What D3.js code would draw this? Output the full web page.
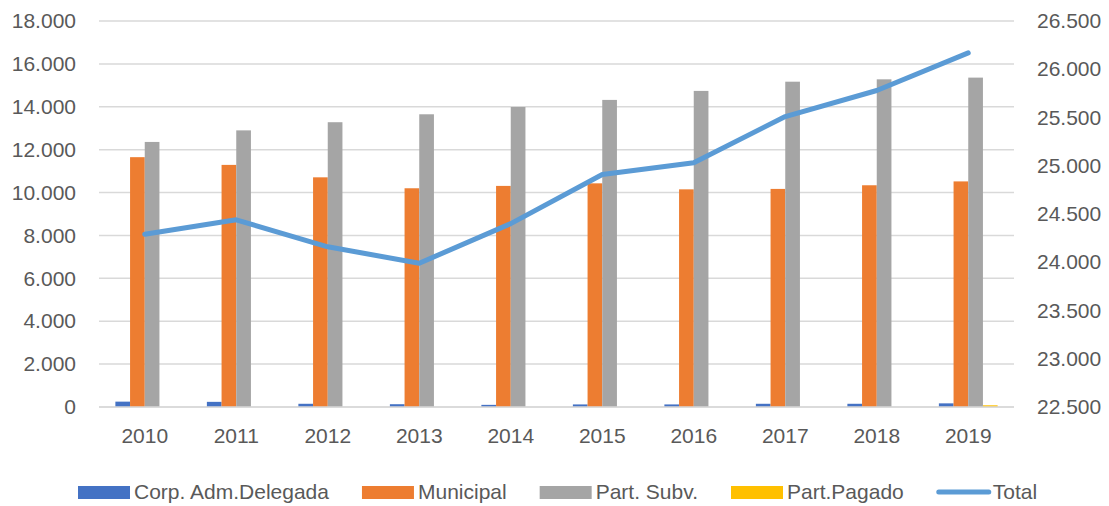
<!DOCTYPE html>
<html>
<head>
<meta charset="utf-8">
<script src="https://cdn.jsdelivr.net/npm/d3@7"></script>
<style>
  body { margin: 0; background: #fff; }
  text { font-family: "Liberation Sans", Arial, sans-serif; fill: #595959; }
</style>
</head>
<body>
<script>
var years = ['2010', '2011', '2012', '2013', '2014', '2015', '2016', '2017', '2018', '2019'];
var corpAdm = [250, 240, 150, 130, 100, 120, 120, 150, 150, 170];
var municipal = [11650, 11290, 10710, 10200, 10310, 10430, 10150, 10170, 10340, 10520];
var partSubv = [12360, 12900, 13280, 13650, 13990, 14320, 14740, 15170, 15280, 15360];
var partPagado = [0, 0, 0, 0, 0, 0, 0, 0, 0, 80];
var total = [24290, 24440, 24160, 23990, 24400, 24910, 25030, 25510, 25780, 26170];
var leftTicks = [0, 2000, 4000, 6000, 8000, 10000, 12000, 14000, 16000, 18000];
var rightTicks = [22500, 23000, 23500, 24000, 24500, 25000, 25500, 26000, 26500];

var barSeries = [
  {name: 'Corp. Adm.Delegada', values: corpAdm, color: '#4472C4'},
  {name: 'Municipal', values: municipal, color: '#ED7D31'},
  {name: 'Part. Subv.', values: partSubv, color: '#A5A5A5'},
  {name: 'Part.Pagado', values: partPagado, color: '#FFC000'}
];

var screen = {width: 1109, height: 506};
var plot = {left: 99, right: 1014, top: 21, bottom: 407};

var svg = d3.select('body')
            .append('svg')
            .attr('width', screen.width)
            .attr('height', screen.height);

var xScale = d3.scaleBand()
               .domain(years)
               .range([plot.left, plot.right])
               .padding(0);
var bw = xScale.bandwidth();
var xInner = d3.scaleBand()
               .domain(barSeries.map(function(s){ return s.name; }))
               .range([bw * 0.179, bw * 0.821])
               .padding(0);

var yLeft = d3.scaleLinear().domain([0, 18000]).range([plot.bottom, plot.top]);
var yRight = d3.scaleLinear().domain([22500, 26500]).range([plot.bottom, plot.top]);

var fmt = function(v){ return d3.format(',')(v).replace(/,/g, '.'); };

// gridlines
svg.append('g')
   .selectAll('line')
   .data(leftTicks)
   .enter()
   .append('line')
   .attr('x1', plot.left)
   .attr('x2', plot.right)
   .attr('y1', function(d){ return yLeft(d); })
   .attr('y2', function(d){ return yLeft(d); })
   .attr('stroke', '#d9d9d9')
   .attr('stroke-width', 1.5);

// left axis
var leftAxis = svg.append('g')
   .attr('transform', 'translate(' + plot.left + ',0)')
   .call(d3.axisLeft(yLeft).tickValues(leftTicks).tickFormat(fmt).tickSize(0).tickPadding(23));
leftAxis.select('.domain').remove();
leftAxis.selectAll('text').style('font-size', '21px').attr('fill', '#595959')
        .style('font-family', '"Liberation Sans", Arial, sans-serif');

// right axis
var rightAxis = svg.append('g')
   .attr('transform', 'translate(' + plot.right + ',0)')
   .call(d3.axisRight(yRight).tickValues(rightTicks).tickFormat(fmt).tickSize(0).tickPadding(23));
rightAxis.select('.domain').remove();
rightAxis.selectAll('text').style('font-size', '21px').attr('fill', '#595959')
         .style('font-family', '"Liberation Sans", Arial, sans-serif');

// bottom axis
var bottomAxis = svg.append('g')
   .attr('transform', 'translate(0,' + plot.bottom + ')')
   .call(d3.axisBottom(xScale).tickSize(0).tickPadding(21));
bottomAxis.select('.domain').remove();
bottomAxis.selectAll('text').style('font-size', '21px').attr('fill', '#595959')
          .style('font-family', '"Liberation Sans", Arial, sans-serif');

// bars
var groups = svg.append('g')
   .selectAll('g')
   .data(barSeries)
   .enter()
   .append('g')
   .attr('fill', function(s){ return s.color; });

groups.selectAll('rect')
   .data(function(s){ return s.values.map(function(v, i){ return {name: s.name, year: years[i], value: v}; }); })
   .enter()
   .append('rect')
   .attr('x', function(d){ return xScale(d.year) + xInner(d.name); })
   .attr('y', function(d){ return yLeft(d.value); })
   .attr('width', xInner.bandwidth())
   .attr('height', function(d){ return plot.bottom - yLeft(d.value); });

// axis line at zero
svg.append('line')
   .attr('x1', plot.left)
   .attr('x2', plot.right)
   .attr('y1', yLeft(0))
   .attr('y2', yLeft(0))
   .attr('stroke', '#d9d9d9')
   .attr('stroke-width', 1.5);

// total line
var line = d3.line()
   .x(function(d, i){ return xScale(years[i]) + bw / 2; })
   .y(function(d){ return yRight(d); });

svg.append('path')
   .datum(total)
   .attr('d', line)
   .attr('fill', 'none')
   .attr('stroke', '#5B9BD5')
   .attr('stroke-width', 5)
   .attr('stroke-linecap', 'round')
   .attr('stroke-linejoin', 'round');

// legend
var legendItems = barSeries.map(function(s){ return {name: s.name, color: s.color, type: 'bar'}; });
legendItems.push({name: 'Total', color: '#5B9BD5', type: 'line'});

var legend = svg.append('g').attr('class', 'legend');
var lx = 78;
var ly = 492;
legendItems.forEach(function(item){
  var g = legend.append('g');
  if (item.type === 'bar') {
    g.append('rect')
     .attr('x', lx)
     .attr('y', ly - 6)
     .attr('width', 52)
     .attr('height', 13)
     .attr('fill', item.color);
  } else {
    g.append('line')
     .attr('x1', lx + 2)
     .attr('x2', lx + 52)
     .attr('y1', ly)
     .attr('y2', ly)
     .attr('stroke', item.color)
     .attr('stroke-width', 5)
     .attr('stroke-linecap', 'round');
  }
  var t = g.append('text')
   .attr('x', lx + 56)
   .attr('y', ly)
   .attr('dy', '0.35em')
   .style('font-size', '21px')
   .text(item.name);
  lx = lx + 56 + t.node().getComputedTextLength() + 33;
});
</script>
</body>
</html>
